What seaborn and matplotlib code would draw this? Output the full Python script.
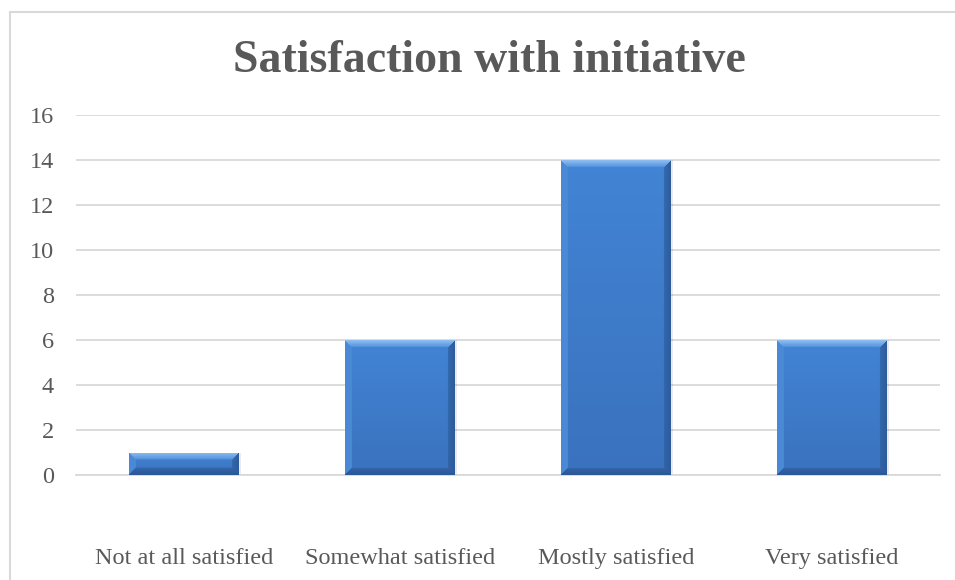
import numpy as np
import pandas as pd
import matplotlib
matplotlib.use("Agg")
import matplotlib.pyplot as plt
from matplotlib.patches import Rectangle
import seaborn as sns

categories = ["Not at all satisfied", "Somewhat satisfied", "Mostly satisfied", "Very satisfied"]
counts = [1, 6, 14, 6]
y_ticks = [0, 2, 4, 6, 8, 10, 12, 14, 16]

df = pd.DataFrame({"category": categories, "count": counts})

sns.set_theme(style="white")
plt.rcParams["font.family"] = ["Liberation Serif", "DejaVu Serif"]

TEXT = "#595959"
GRID = "#D9D9D9"

fig = plt.figure(figsize=(9.55, 5.8), dpi=100)
ax = fig.add_axes([76 / 955, 1 - 475 / 580, (940 - 76) / 955, (475 - 115) / 580])

sns.barplot(data=df, x="category", y="count", color="#3E7ECF", width=0.505,
            saturation=1, ax=ax, zorder=3, linewidth=0)

ax.set_ylim(0, 16)
ax.set_xlim(-0.5, 3.5)
ax.set_yticks(y_ticks)
ax.set_yticklabels([str(t) for t in y_ticks])
ax.set_xlabel("")
ax.set_ylabel("")
ax.grid(axis="y", color=GRID, linewidth=1.3, zorder=0)
ax.grid(axis="x", visible=False)
for side in ["top", "right", "left"]:
    ax.spines[side].set_visible(False)
ax.spines["bottom"].set_color(GRID)
ax.spines["bottom"].set_linewidth(1.3)
ax.tick_params(axis="y", length=0, pad=16, labelsize=17.5, labelcolor=TEXT)
ax.tick_params(axis="x", length=0, pad=64, labelsize=17.5, labelcolor=TEXT)
for lbl in ax.get_xticklabels():
    lbl.set_verticalalignment("baseline")

fig.text(0.512, 1 - 61 / 580, "Satisfaction with initiative", ha="center", va="center",
         fontsize=33, fontweight="bold", color=TEXT)

# Beveled gradient fill for each bar
def hexrgb(h):
    h = h.lstrip("#")
    return np.array([int(h[i:i + 2], 16) for i in (0, 2, 4)]) / 255.0

c_top_hi = hexrgb("#8DBDF0")
c_top_lo = hexrgb("#4E8FDC")
c_mid_top = hexrgb("#4284D5")
c_mid_bot = hexrgb("#3A72BE")
c_left = hexrgb("#4A89D6")
c_right = hexrgb("#2D5C9C")
c_bottom = hexrgb("#2B5896")

fig.canvas.draw()
tr = ax.transData
for patch in ax.patches:
    x0, w, hgt = patch.get_x(), patch.get_width(), patch.get_height()
    (px0, py0) = tr.transform((x0, 0))
    (px1, py1) = tr.transform((x0 + w, hgt))
    W = max(int(round(px1 - px0)), 2)
    H = max(int(round(py1 - py0)), 2)
    b = 7
    ii, jj = np.mgrid[0:H, 0:W]
    dt = ii.astype(float)
    db = (H - 1 - ii).astype(float)
    dl = jj.astype(float)
    dr = (W - 1 - jj).astype(float)
    frac = (ii / max(H - 1, 1))[..., None]
    img = c_mid_top * (1 - frac) + c_mid_bot * frac
    dmin = np.minimum(np.minimum(dt, db), np.minimum(dl, dr))
    edge = dmin < b
    t = (dmin / b)[..., None]
    top = edge & (dt == dmin)
    bot = edge & (db == dmin) & ~top
    lef = edge & (dl == dmin) & ~top & ~bot
    rig = edge & (dr == dmin) & ~top & ~bot & ~lef
    img = np.where(top[..., None], c_top_hi * (1 - t) + c_top_lo * t, img)
    img = np.where(bot[..., None], c_bottom * (1 - 0.5 * t) + img * 0.5 * t, img)
    img = np.where(lef[..., None], c_left, img)
    img = np.where(rig[..., None], c_right * (1 - 0.4 * t) + img * 0.4 * t, img)
    im = ax.imshow(img, extent=(x0, x0 + w, 0, hgt), origin="upper", aspect="auto",
                   zorder=4, interpolation="bilinear")
    im.set_clip_path(patch)
    # soft shadow on the right edge
    ax.add_patch(Rectangle((x0 + w, 0), 0.012, hgt, color="#000000", alpha=0.08,
                           zorder=2, linewidth=0))

ax.set_xlim(-0.5, 3.5)
ax.set_ylim(0, 16)

# Chart frame
fig.add_artist(Rectangle((9.5 / 955, -0.1), 1.1, 1.1 - 11.5 / 580,
                         transform=fig.transFigure, fill=False, edgecolor=GRID,
                         linewidth=1.5))

fig.savefig("out.png", dpi=100, facecolor="white")
